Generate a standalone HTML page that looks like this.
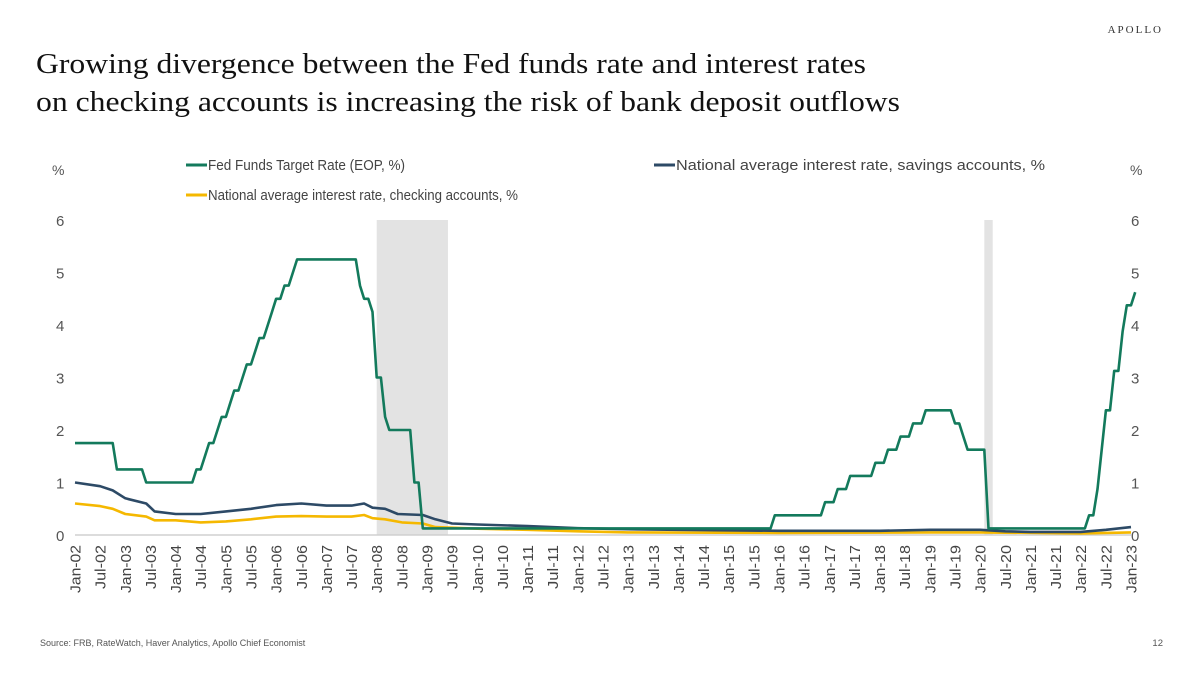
<!DOCTYPE html>
<html><head><meta charset="utf-8"><style>
body{margin:0;background:#fff;}
svg text{font-family:"Liberation Sans",sans-serif;}
</style></head><body>
<svg width="1200" height="673" viewBox="0 0 1200 673" id="svg">
<text x="1163" y="33" text-anchor="end" style="font-family:'Liberation Serif',serif;font-size:11px;letter-spacing:2px" fill="#333">APOLLO</text>
<text x="36" y="73" textLength="830" lengthAdjust="spacingAndGlyphs" style="font-family:'Liberation Serif',serif;font-size:29px" fill="#111">Growing divergence between the Fed funds rate and interest rates</text>
<text x="36" y="111" textLength="864" lengthAdjust="spacingAndGlyphs" style="font-family:'Liberation Serif',serif;font-size:29px" fill="#111">on checking accounts is increasing the risk of bank deposit outflows</text>
<text x="52" y="175" font-size="14" fill="#555">%</text>
<text x="1130" y="175" font-size="14" fill="#555">%</text>
<g>
<g><line x1="186" y1="165" x2="207" y2="165" stroke="#137a5c" stroke-width="3"/><text x="208" y="170" font-size="14.5" textLength="197" lengthAdjust="spacingAndGlyphs" fill="#444">Fed Funds Target Rate (EOP, %)</text></g>
<g><line x1="654" y1="165" x2="675" y2="165" stroke="#2d4a66" stroke-width="3"/><text x="676" y="170" font-size="15" textLength="369" lengthAdjust="spacingAndGlyphs" fill="#444">National average interest rate, savings accounts, %</text></g>
<g><line x1="186" y1="195" x2="207" y2="195" stroke="#f5b800" stroke-width="3"/><text x="208" y="200" font-size="14.5" textLength="310" lengthAdjust="spacingAndGlyphs" fill="#444">National average interest rate, checking accounts, %</text></g>
</g>
<g id="plot"></g>
<text x="40" y="646" font-size="9" fill="#555">Source: FRB, RateWatch, Haver Analytics, Apollo Chief Economist</text>
<text x="1163" y="646" font-size="9.5" fill="#555" text-anchor="end">12</text>
</svg>
<script>
// months since Jan-2002
const fedMonths=[0,10,17,29,31,32,34,35,37,38,40,41,43,44,46,47,48,50,52,53,68,69,71,72,74,75,81,83,167,179,182,185,191,194,197,200,203,210,212,213,218,242,244,245,246,248,250,251,253];
const fedValues=[1.75,1.25,1.0,1.25,1.5,1.75,2.0,2.25,2.5,2.75,3.0,3.25,3.5,3.75,4.0,4.25,4.5,4.75,5.0,5.25,4.75,4.5,4.25,3.0,2.25,2.0,1.0,0.125,0.375,0.625,0.875,1.125,1.375,1.625,1.875,2.125,2.375,2.125,1.875,1.625,0.125,0.375,0.875,1.625,2.375,3.125,3.875,4.375,4.625];
const savMonths=[0,6,9,12,17,19,24,30,36,42,48,54,60,66,69,71,74,77,83,86,90,96,108,120,132,144,168,192,204,216,222,228,240,246,252];
const savValues=[1.0,0.93,0.85,0.7,0.6,0.45,0.4,0.4,0.45,0.5,0.57,0.6,0.56,0.56,0.6,0.52,0.5,0.4,0.38,0.3,0.22,0.2,0.17,0.13,0.11,0.1,0.08,0.08,0.1,0.1,0.07,0.06,0.06,0.1,0.15];
const chkMonths=[0,6,9,12,17,19,24,30,36,42,48,54,60,66,69,71,74,78,83,86,96,108,120,132,168,204,216,240,252];
const chkValues=[0.6,0.55,0.5,0.4,0.35,0.28,0.28,0.24,0.26,0.3,0.35,0.36,0.35,0.35,0.38,0.32,0.3,0.24,0.22,0.15,0.12,0.1,0.07,0.05,0.04,0.05,0.05,0.03,0.05];
const recessions=[[72,89],[217,219]];
const yTicks=[0,1,2,3,4,5,6];
const mon=['Jan','Jul'];
const NS='http://www.w3.org/2000/svg';
const x0=75,x1=1131,y0=535,y1=220;
const X=m=>x0+(x1-x0)*m/252;
const Y=v=>y0-(y0-y1)*v/6;
const g=document.getElementById('plot');
function el(t,a){const e=document.createElementNS(NS,t);for(const k in a)e.setAttribute(k,a[k]);g.appendChild(e);return e;}
recessions.forEach(r=>{const e=el('rect',{x:X(r[0]),y:y1,width:X(r[1])-X(r[0]),height:y0-y1,fill:'#e3e3e3'});

});
const ax=el('line',{x1:x0,x2:x1,y1:y0,y2:y0,stroke:'#d0d0d0','stroke-width':1.5});


yTicks.forEach(v=>{
 const a=el('text',{x:56,y:Y(v)+6,'font-size':15,fill:'#555'});a.textContent=v;
 
 
 const b=el('text',{x:1131,y:Y(v)+6,'font-size':15,fill:'#555'});b.textContent=v;
 
 
});
for(let m=0;m<=252;m+=6){
 const lab=mon[(m/6)%2]+'-'+String(2+Math.floor(m/12)).padStart(2,'0');
 const t=el('text',{transform:`translate(${X(m)+5.5},545) rotate(-90)`,'text-anchor':'end','font-size':15,fill:'#444',textLength:(m/6)%2?44:48,lengthAdjust:'spacingAndGlyphs'});
 t.textContent=lab;
 
 
}
function stepMonthly(ms,vs){const out=[];let j=0;for(let m=0;m<=ms[ms.length-1];m++){while(j+1<ms.length&&ms[j+1]<=m)j++;out.push([m,vs[j]]);}return out;}
function pts(ms,vs){return ms.map((m,i)=>[m,vs[i]]);}
function line(p,c,name){const e=el('polyline',{points:p.map(q=>X(q[0]).toFixed(1)+','+Y(q[1]).toFixed(1)).join(' '),fill:'none',stroke:c,'stroke-width':2.6,'stroke-linejoin':'round'});
 
 }
line(pts(chkMonths,chkValues),'#f5b800','checking-rate-line');
line(pts(savMonths,savValues),'#2d4a66','savings-rate-line');
line(stepMonthly(fedMonths,fedValues),'#137a5c','fed-funds-line');
</script>
</body></html>
